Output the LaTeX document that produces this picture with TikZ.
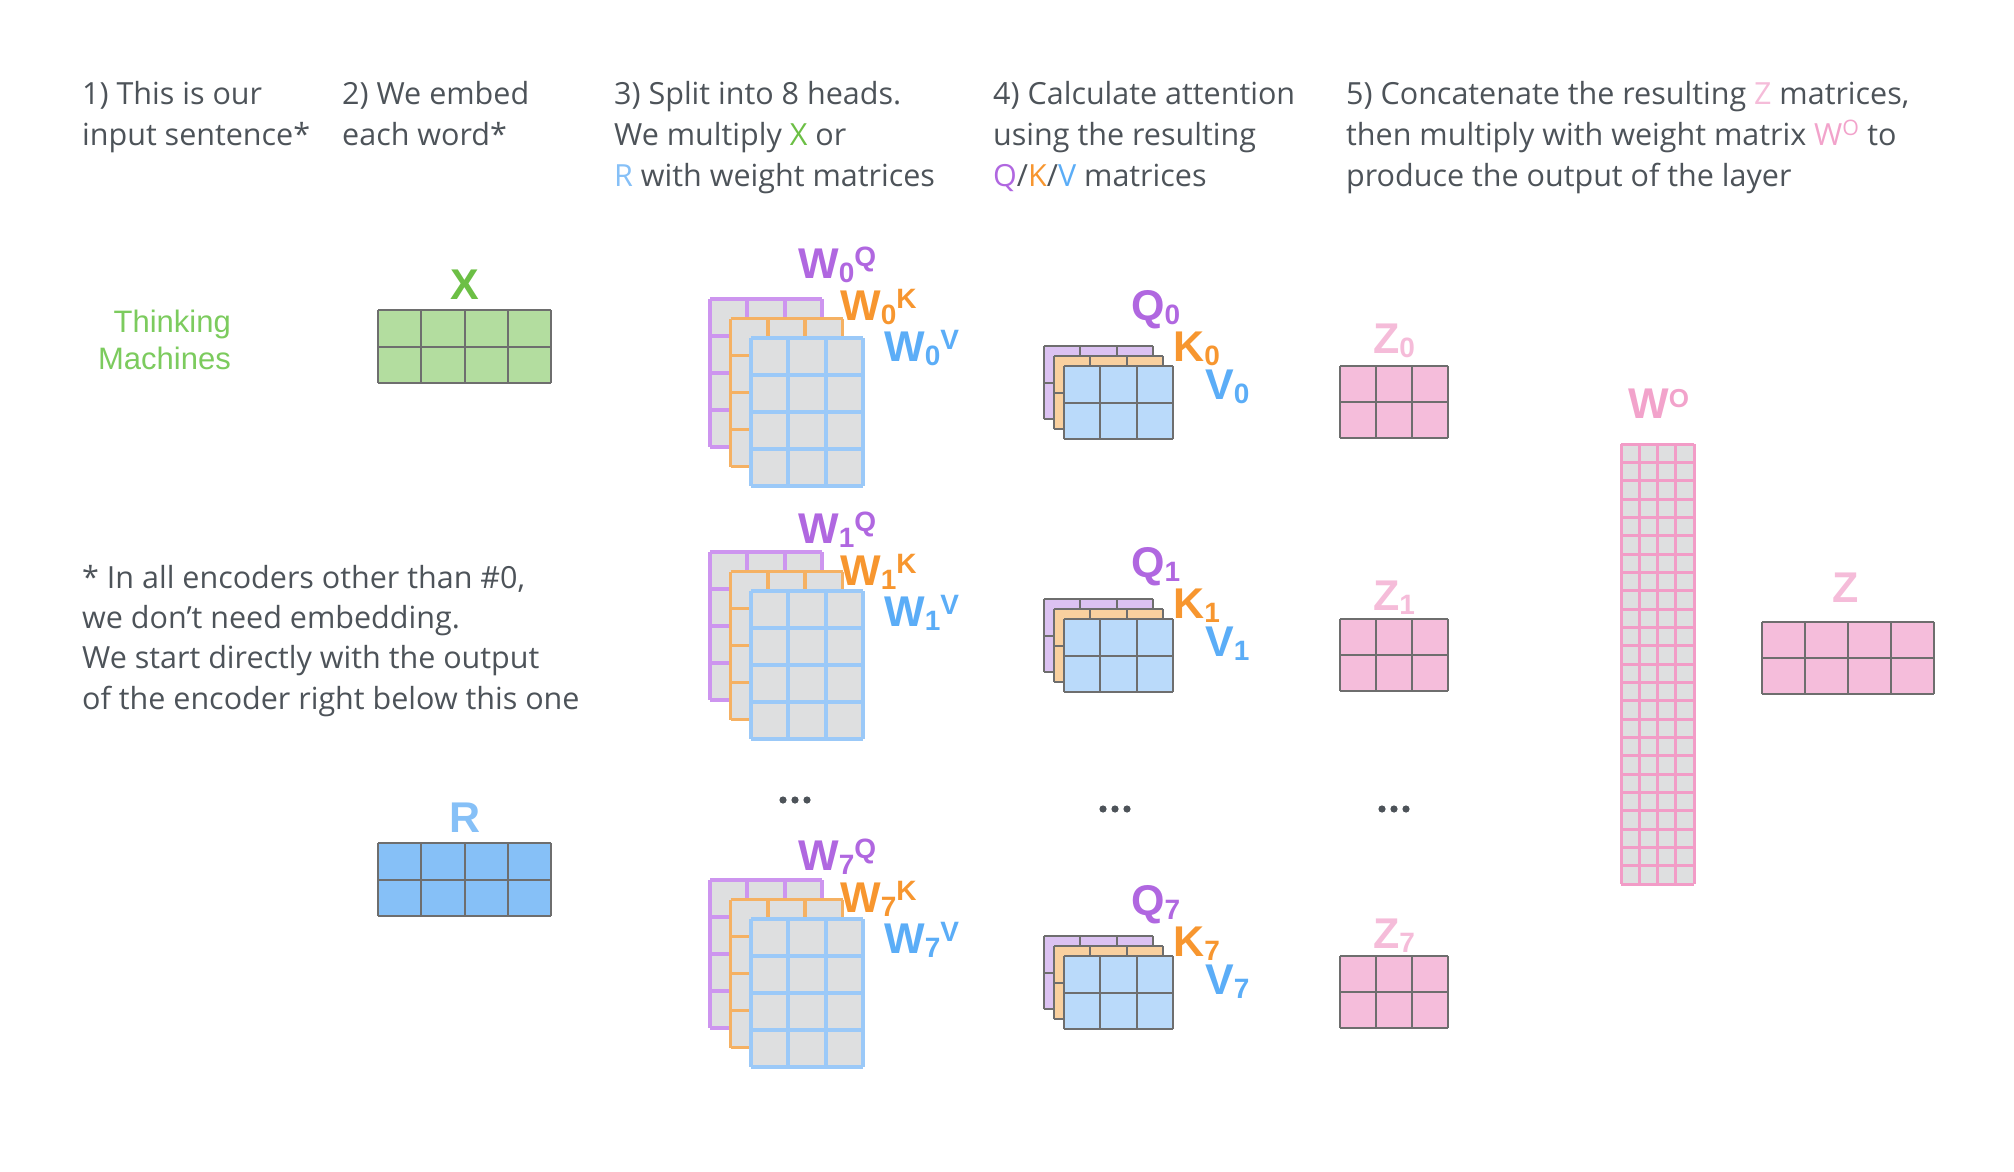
\documentclass[tikz,border=0pt]{standalone}
\usepackage{fontspec}
\setmainfont{Open Sans}
\newfontfamily\labfont{Liberation Sans}
\definecolor{txt}{HTML}{4D5359}
\definecolor{cpur}{HTML}{B067E0}
\definecolor{cora}{HTML}{F7962F}
\definecolor{cblu}{HTML}{5BADF7}
\definecolor{cgrn}{HTML}{6CBF45}
\definecolor{ctm}{HTML}{7CCB5E}
\definecolor{crr}{HTML}{86C0F7}
\definecolor{czl}{HTML}{F5BCD9}
\definecolor{cwo}{HTML}{F2A3CB}
\definecolor{wgray}{HTML}{DEDFE0}
\definecolor{lpur}{HTML}{CD95EF}
\definecolor{lora}{HTML}{F5B163}
\definecolor{lblu}{HTML}{9BC9F8}
\definecolor{fpur}{HTML}{DCC2F2}
\definecolor{fora}{HTML}{F9D09F}
\definecolor{fblu}{HTML}{BADAFA}
\definecolor{fx}{HTML}{B3DD9F}
\definecolor{fr}{HTML}{86C0F7}
\definecolor{fz}{HTML}{F5BDDB}
\definecolor{gline}{HTML}{6E6E6E}
\definecolor{pline}{HTML}{F29CC7}
\newcommand{\mymat}[8]{%
  \fill[#7] (#1,#2) rectangle ++(#3,#4);
  \foreach \i in {0,...,#5} \draw[#8] ({#1+\i*#3/#5},#2) -- ++(0,#4);
  \foreach \j in {0,...,#6} \draw[#8] (#1,{#2+\j*#4/#6}) -- ++(#3,0);
}
\newcommand{\lbsub}[2]{#1\raisebox{-4pt}{\fontsize{28}{28}\selectfont #2}}
\newcommand{\lbsup}[1]{\raisebox{12pt}{\fontsize{28}{28}\selectfont #1}}
\tikzset{
  head/.style={anchor=base west, align=left, inner sep=0pt, text=txt, font=\fontsize{30.5}{41}\selectfont},
  mlab/.style={anchor=base west, inner sep=0pt, font=\labfont\bfseries\fontsize{43}{43}\selectfont},
  clab/.style={anchor=base, inner sep=0pt, font=\labfont\bfseries\fontsize{43}{43}\selectfont},
  wline/.style={line width=3.8pt, #1},
  kline/.style={line width=2pt, gline},
  oline/.style={line width=3pt, pline}
}
\begin{document}
\begin{tikzpicture}[x=1pt,y=-1pt]
\useasboundingbox (0,0) rectangle (2014,1172);
% headings (anchor at the baseline of the last line)
\node[head] (h1) at (82,145) {1) This is our\\input sentence*};
\node[head] (h2) at (342,145) {2) We embed\\each word*};
\node[head] (h3) at (614,186) {3) Split into 8 heads.\\We multiply \textcolor{cgrn}{X} or\\\textcolor{crr}{R} with weight matrices};
\node[head] (h4) at (993,186) {4) Calculate attention\\using the resulting\\\textcolor{cpur}{Q}/\textcolor{cora}{K}/\textcolor{cblu}{V} matrices};
\node[head] (h5) at (1346,186) {5) Concatenate the resulting \textcolor{czl}{Z} matrices,\\then multiply with weight matrix \textcolor{cwo}{W\textsuperscript{O}} to\\produce the output of the layer};
\node[head, font=\fontsize{30.5}{40.3}\selectfont] (foot) at (82,709) {* In all encoders other than \#0,\\we don’t need embedding.\\We start directly with the output\\of the encoder right below this one};
% input sentence
\node[anchor=base east, align=right, inner sep=0pt, text=ctm, font=\labfont\fontsize{31}{37}\selectfont] (tm) at (231,369) {Thinking\\Machines};
% X and R
\node[clab, text=cgrn] (xl) at (465,299) {X};
\mymat{378}{310}{173}{73}{4}{2}{fx}{kline}
\node[clab, text=crr] (rl) at (465,832) {R};
\mymat{378}{843}{173}{73}{4}{2}{fr}{kline}
% W stacks
\foreach \d/\e/\n in {0/0/0, 253/265/1, 581/592/7} {
  \mymat{710}{299+\d}{112}{148}{3}{4}{wgray}{wline=lpur}
  \mymat{730.5}{318.5+\d}{112}{148}{3}{4}{wgray}{wline=lora}
  \mymat{751}{338+\d}{112}{148}{3}{4}{wgray}{wline=lblu}
  \node[mlab, text=cpur] (wq\n) at (798,278+\e) {\lbsub{W}{\n}\lbsup{Q}};
  \node[mlab, text=cora] (wk\n) at (840,320+\e) {\lbsub{W}{\n}\lbsup{K}};
  \node[mlab, text=cblu] (wv\n) at (884,361+\e) {\lbsub{W}{\n}\lbsup{V}};
}
% QKV stacks and Z
\foreach \d/\e/\n in {0/0/0, 253/257/1, 590/595/7} {
  \mymat{1044}{346+\d}{109}{73}{3}{2}{fpur}{kline}
  \mymat{1054}{356+\d}{109}{73}{3}{2}{fora}{kline}
  \mymat{1064}{366+\d}{109}{73}{3}{2}{fblu}{kline}
  \node[mlab, text=cpur] (q\n) at (1131,320+\e) {\lbsub{Q}{\n}};
  \node[mlab, text=cora] (k\n) at (1173,361+\e) {\lbsub{K}{\n}};
  \node[mlab, text=cblu] (v\n) at (1205,399+\e) {\lbsub{V}{\n}};
  \mymat{1340}{366+\d}{108}{72}{3}{2}{fz}{kline}
  \node[mlab, text=czl] (z\n) at (1373,353+\e) {\lbsub{Z}{\n}};
}
% dots
\foreach \cx/\cy in {795/800, 1115/809, 1394/809} {
  \foreach \k in {-12,0,12} \fill[txt] (\cx+\k,\cy) circle (3.6);
}
% W^O and Z
\node[mlab, text=cwo] (wo) at (1628,418) {W\raisebox{11pt}{\fontsize{26}{26}\selectfont O}};
\mymat{1621}{444}{73}{440}{4}{24}{wgray}{oline}
\node[clab, text=czl] (zl) at (1846,602) {Z};
\mymat{1762}{622}{172}{72}{4}{2}{fz}{kline}
\end{tikzpicture}
\end{document}
